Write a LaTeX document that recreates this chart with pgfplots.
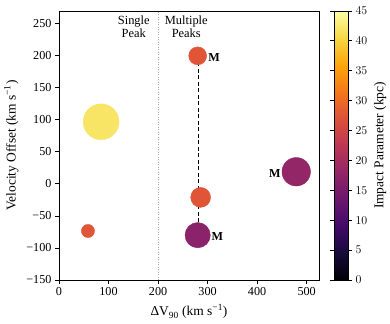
\documentclass[border=0pt]{standalone}
\usepackage{fontspec}
\setmainfont{Liberation Serif}
\usepackage{pgfplots}
\pgfplotsset{compat=1.18}

\pgfplotsset{colormap={inferno}{rgb255=(0,0,4) rgb255=(22,11,57) rgb255=(66,10,104)
  rgb255=(106,23,110) rgb255=(147,38,103) rgb255=(188,55,84) rgb255=(221,81,58)
  rgb255=(243,120,25) rgb255=(252,165,10) rgb255=(246,215,70) rgb255=(252,255,164)}}

% x = Delta V90, y = velocity offset, c = impact parameter, r = marker radius (pt)
\pgfplotstableread{
x    y     c     r
85   97    42    18
58.5 -73.5 27.5  6.6
280  200   27.5  9
286  -21   27.5  10
280  -80   17    12.7
479  19    18    14.3
}\points

\newcommand{\tickfont}{\fontsize{12.2}{13}\selectfont}
\newcommand{\labfont}{\fontsize{13.5}{14}\selectfont}
\newcommand{\txtfont}{\fontsize{12.5}{13.2}\selectfont}

\begin{document}
\begin{tikzpicture}
\begin{axis}[
    name=ax,
    scale only axis,
    width=260bp, height=269bp,
    xmin=0, xmax=525,
    ymin=-150, ymax=270,
    xtick={0,100,200,300,400,500},
    ytick={-150,-100,-50,0,50,100,150,200,250},
    yticklabels={−150,−100,−50,0,50,100,150,200,250},
    /pgf/number format/assume math mode=true,
    tick align=outside,
    major tick length=4bp,
    minor tick num=0,
    xtick pos=bottom, ytick pos=left,
    tick style={black, line width=0.9bp},
    axis line style={line width=0.9bp},
    ticklabel style={font=\tickfont},
    label style={font=\labfont},
    xlabel={ΔV\textsubscript{90} (km s\textsuperscript{−1})},
    ylabel={Velocity Offset (km s\textsuperscript{−1})},
    xlabel shift=2bp,
    ylabel shift=1bp,
    colormap name=inferno,
    point meta min=0, point meta max=45,
    colorbar,
    colorbar style={
        at={(parent axis.north east)}, anchor=north west,
        xshift=15bp,
        width=14bp,
        ytick={0,5,...,45},
        tick align=outside,
        major tick length=4bp,
        yticklabel pos=right,
        ylabel={Impact Parameter (kpc)},
        ylabel style={font=\labfont},
        yticklabel style={font=\tickfont},
        axis line style={line width=0.9bp},
    },
    colorbar shift/.style={},
    clip=false,
]
\addplot[gray!65, line width=1bp, dash pattern=on 1bp off 1.5bp, forget plot]
    coordinates {(200,-150) (200,270)};
\addplot[black, line width=1.3bp, dash pattern=on 4bp off 2.5bp, forget plot]
    coordinates {(281,200) (281,-80)};
\addplot[scatter, only marks, mark=*,
    point meta=explicit,
    scatter/use mapped color={draw=mapped color, fill=mapped color},
    visualization depends on={\thisrow{r}\as\rad},
    scatter/@pre marker code/.append style={/tikz/mark size=\rad},
] table[x=x, y=y, meta=c] {\points};
\node[align=center, font=\txtfont, inner sep=0pt]
    at (axis cs:151,246) {Single\\Peak};
\node[align=center, font=\txtfont, inner sep=0pt]
    at (axis cs:257,246) {Multiple\\Peaks};
\node[font=\tickfont\bfseries, inner sep=0pt]
    at (axis cs:313,198) {M};
\node[font=\tickfont\bfseries, inner sep=0pt]
    at (axis cs:320,-82) {M};
\node[font=\tickfont\bfseries, inner sep=0pt]
    at (axis cs:436,17) {M};
\end{axis}
\pgfresetboundingbox
\path[use as bounding box] (ax.south west) ++(-59bp,-44bp) rectangle ++(390bp,324bp);
\end{tikzpicture}
\end{document}
